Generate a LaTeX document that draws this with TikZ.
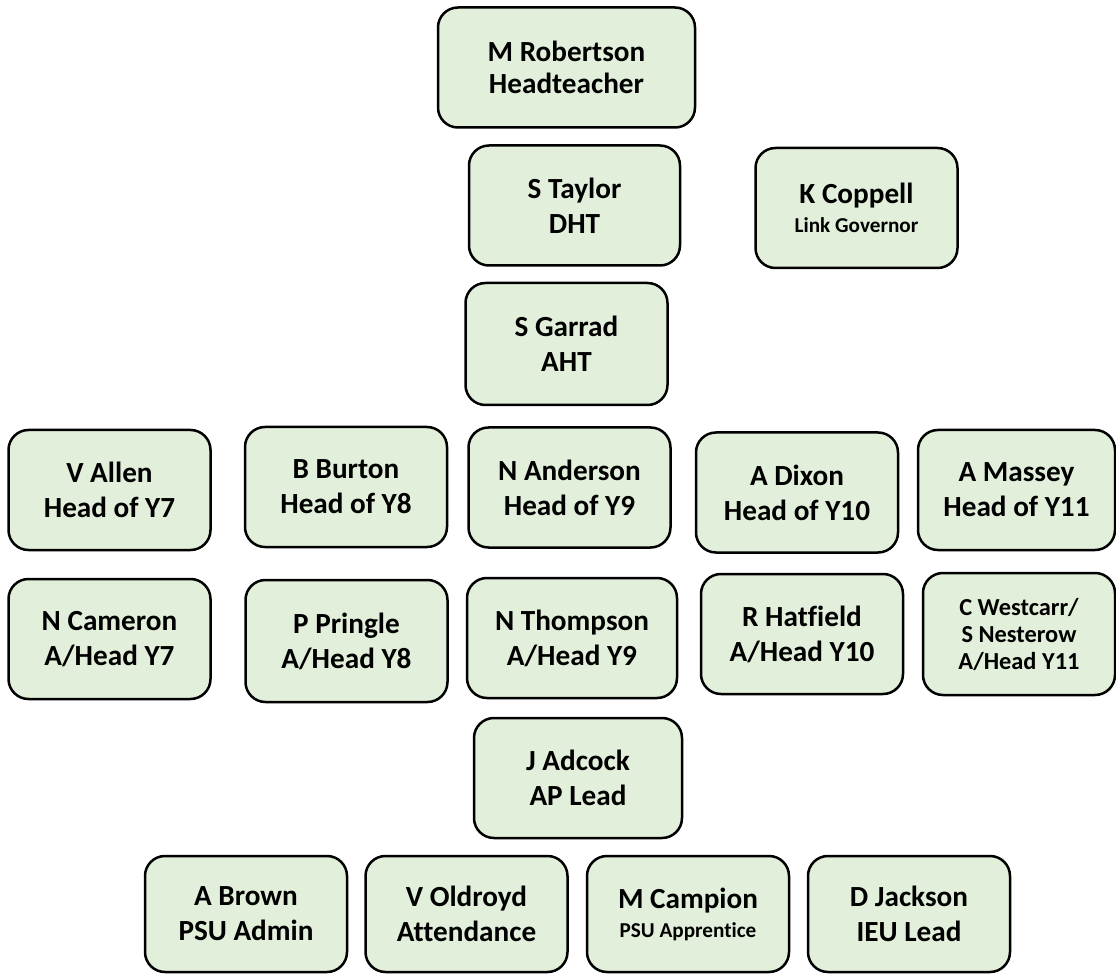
\documentclass[tikz,border=0pt]{standalone}
\usepackage{fontspec}
\setmainfont{Carlito}[Ligatures=NoCommon]
\definecolor{boxgreen}{HTML}{E2EFDA}
\tikzset{
  staff/.style={draw=black, line width=1.25pt, fill=boxgreen, rounded corners=10pt,
    minimum width=101pt, minimum height=60pt, inner sep=0pt, align=center,
    font=\bfseries\fontsize{14.6}{17.5}\selectfont}
}
\newcommand{\minor}[1]{{\fontsize{10.6}{13.5}\selectfont #1}}
\begin{document}
\begin{tikzpicture}[x=0.5pt,y=-0.5pt]
    \useasboundingbox (0,0) rectangle (1116,974);
    \node[staff, minimum width=128.5pt, font=\bfseries\fontsize{14.6}{16}\selectfont] (MR) at (566.5,67.5) {M Robertson\\Headteacher};
    \node[staff, minimum width=105.5pt] (ST) at (574.5,205.5) {S Taylor\\DHT};
    \node[staff] (KC) at (856.5,208) {K Coppell\\[-3pt]\minor{Link Governor}};
    \node[staff, minimum height=61pt] (SG) at (566.5,344) {S Garrad\\AHT};

    \node[staff] (VA) at (109.5,490) {V Allen\\Head of Y7};
    \node[staff] (BB) at (346,487) {B Burton\\Head of Y8};
    \node[staff] (NA) at (569.5,487.5) {N Anderson\\Head of Y9};
    \node[staff] (AD) at (797,492.5) {A Dixon\\Head of Y10};
    \node[staff, minimum width=98.5pt] (AM) at (1016.5,490) {A Massey\\Head of Y11};

    \node[staff] (NC) at (109.5,639) {N Cameron\\A/Head Y7};
    \node[staff, minimum height=61pt] (PP) at (346.5,641) {P Pringle\\A/Head Y8};
    \node[staff, minimum width=105pt] (NT) at (572,638) {N Thompson\\A/Head Y9};
    \node[staff] (RH) at (802,634) {R Hatfield\\A/Head Y10};
    \node[staff, minimum width=96pt, minimum height=61pt, font=\bfseries\fontsize{12.2}{13.5}\selectfont] (CW) at (1019,634) {C Westcarr/\\S Nesterow\\A/Head Y11};

    \node[staff, minimum width=104pt] (JA) at (578,778) {J Adcock\\AP Lead};

    \node[staff, minimum height=58pt] (AB) at (246,914) {A Brown\\PSU Admin};
    \node[staff, minimum height=58pt] (VO) at (466.5,914) {V Oldroyd\\Attendance};
    \node[staff, minimum height=58pt] (MC) at (688,914) {M Campion\\[-3pt]\minor{PSU Apprentice}};
    \node[staff, minimum height=58pt] (DJ) at (909,914) {D Jackson\\IEU Lead};
\end{tikzpicture}
\end{document}
